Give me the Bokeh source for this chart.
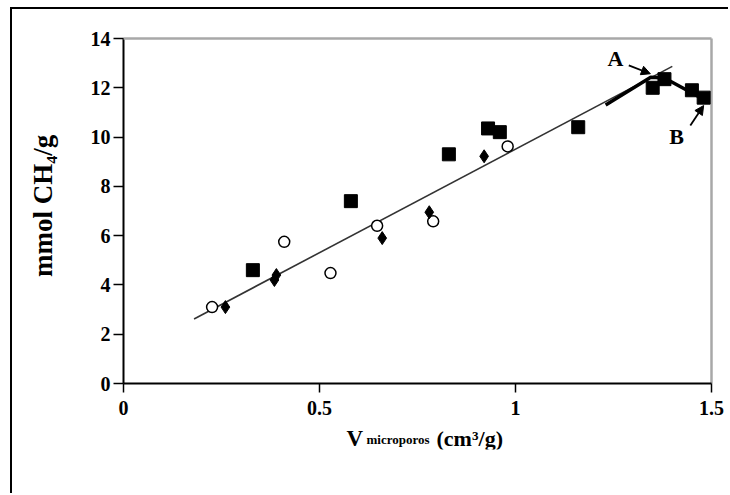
from bokeh.plotting import figure
from bokeh.models import Range1d, FixedTicker, Label, Arrow, NormalHead
from bokeh.embed import file_html
from bokeh.resources import INLINE

# ---- data ----
sq_x = [0.33, 0.58, 0.83, 0.93, 0.96, 1.16, 1.35, 1.38, 1.45, 1.48]
sq_y = [4.6, 7.4, 9.3, 10.35, 10.2, 10.4, 12.0, 12.35, 11.9, 11.6]

dia_x = [0.26, 0.385, 0.39, 0.66, 0.78, 0.92]
dia_y = [3.1, 4.2, 4.4, 5.9, 6.95, 9.22]

circ_x = [0.226, 0.41, 0.528, 0.647, 0.79, 0.98]
circ_y = [3.1, 5.75, 4.48, 6.4, 6.58, 9.62]

trend_x = [0.18, 1.40]
trend_y = [2.62, 12.87]

highlight_x = [1.23, 1.345, 1.38, 1.489]
highlight_y = [11.3, 12.43, 12.4, 11.45]

arrowA_x = [1.289, 1.344]
arrowA_y = [12.91, 12.57]
arrowB_x = [1.446, 1.48]
arrowB_y = [10.47, 11.28]

x_ticks = [0, 0.5, 1, 1.5]
x_tick_labels = ["0", "0.5", "1", "1.5"]
y_ticks = [0, 2, 4, 6, 8, 10, 12, 14]

y_title = "mmol CH\u2084/g"
x_title_main = "V"
x_title_sub = "microporos"
x_title_unit = "(cm\u00b3/g)"

# ---- layout ----
# window pixels of the plot area: x 0 -> 123, 1.5 -> 711 ; y 0 -> 383, 14 -> 38
OX, OY = 12, 9                 # canvas origin in the window (after margin + border)
W, H = 730 - OX, 495 - OY      # canvas size
PX0, PX1, PY0, PY1 = 123, 711, 383, 38
XA, XB = x_ticks[0], x_ticks[-1]
YA, YB = y_ticks[0], y_ticks[-1]
KX = (PX1 - PX0) / (XB - XA)   # px per x unit
KY = (PY0 - PY1) / (YB - YA)   # px per y unit
BOTTOM = 46                    # height of the panel holding the x axis
FRAME_LEFT = 113               # window x of the frame's left edge (y-axis panel side)
TICK = 10


def dx(px):
    return XA + (px - PX0) / KX


def dy(py):
    return YA + (PY0 - py) / KY


x_range = Range1d(dx(FRAME_LEFT), dx(730))
y_range = Range1d(dy(495 - BOTTOM), dy(OY))

FONT = "Liberation Serif"

p = figure(width=W, height=H, x_range=x_range, y_range=y_range,
           output_backend="svg", toolbar_location=None, title_location=None,
           min_border_left=FRAME_LEFT - OX, min_border_right=0, min_border_top=0,
           min_border_bottom=BOTTOM)
p.margin = (OY - 2, 0, 0, OX - 2)
p.styles = {"border-left": "2px solid black", "border-top": "2px solid black"}
p.background_fill_color = "white"
p.border_fill_color = "white"
p.grid.visible = False
p.outline_line_color = None

p.xaxis.ticker = FixedTicker(ticks=x_ticks)
p.xaxis.major_label_overrides = {t: l for t, l in zip(x_ticks, x_tick_labels)}
p.xaxis.fixed_location = YA
p.xaxis.bounds = (XA, XB)
p.yaxis.ticker = FixedTicker(ticks=y_ticks)
p.yaxis.bounds = (YA, YB)
for ax in (p.xaxis, p.yaxis):
    ax.axis_line_color = "black"
    ax.axis_line_width = 2
    ax.major_tick_line_color = "black"
    ax.major_tick_line_width = 1.5
    ax.minor_tick_in = 0
    ax.minor_tick_out = 0
    ax.major_label_text_font = FONT
    ax.major_label_text_font_style = "bold"
    ax.major_label_text_font_size = "20px"
    ax.major_label_text_color = "black"
p.xaxis.major_tick_in = 0
p.xaxis.major_tick_out = TICK - 1
p.xaxis.major_label_standoff = 8
# the y axis sits at the frame edge, TICK px left of x = 0; its ticks reach the y axis line
p.yaxis.axis_line_color = None
p.yaxis.major_tick_in = TICK
p.yaxis.major_tick_out = 0
p.yaxis.major_label_standoff = 3

p.yaxis.axis_label = "\u00a0" * 7 + y_title
p.yaxis.axis_label_text_font = FONT
p.yaxis.axis_label_text_font_style = "bold"
p.yaxis.axis_label_text_font_size = "27px"
p.yaxis.axis_label_text_color = "black"
p.yaxis.axis_label_standoff = 30

# y axis line at x = 0, grey plot-area edges (top and right)
p.line([XA, XA], [YA, YB], line_color="black", line_width=2)
p.line([XA, XB], [YB, YB], line_color="#a8a8a8", line_width=2.5)
p.line([XB, XB], [YA, YB], line_color="#a8a8a8", line_width=2.5)

# trend line and highlighted path
p.line(trend_x, trend_y, line_color="#333333", line_width=1.6)
p.line(highlight_x, highlight_y, line_color="black", line_width=3.5)

# markers
p.scatter(circ_x, circ_y, marker="circle", size=11, fill_color="white",
          line_color="black", line_width=1.5)
p.scatter(dia_x, dia_y, marker="diamond", size=13, fill_color="black", line_color="black")
p.scatter(sq_x, sq_y, marker="square", size=13, fill_color="black", line_color="black")

# arrows A and B
for ax_, ay_ in ((arrowA_x, arrowA_y), (arrowB_x, arrowB_y)):
    p.add_layout(Arrow(x_start=ax_[0], y_start=ay_[0], x_end=ax_[1], y_end=ay_[1],
                       line_width=1.8, line_color="black",
                       end=NormalHead(size=9, fill_color="black", line_color="black")))

p.add_layout(Label(x=dx(615), y=dy(58), text="A", text_font=FONT, text_font_style="bold",
                   text_font_size="22px", text_align="center", text_baseline="middle",
                   text_color="black"))
p.add_layout(Label(x=dx(676), y=dy(136), text="B", text_font=FONT, text_font_style="bold",
                   text_font_size="22px", text_align="center", text_baseline="middle",
                   text_color="black"))

# x axis title, composed of three pieces
common = dict(text_font=FONT, text_font_style="bold", text_align="left",
              text_baseline="alphabetic", text_color="black")
p.add_layout(Label(x=dx(346), y=dy(438), text=x_title_main, text_font_size="23px", **common))
p.add_layout(Label(x=dx(366), y=dy(439), text=x_title_sub, text_font_size="13px", **common))
p.add_layout(Label(x=dx(436), y=dy(438), text=x_title_unit, text_font_size="22px", **common))

open("out.html", "w").write(file_html(p, INLINE))
